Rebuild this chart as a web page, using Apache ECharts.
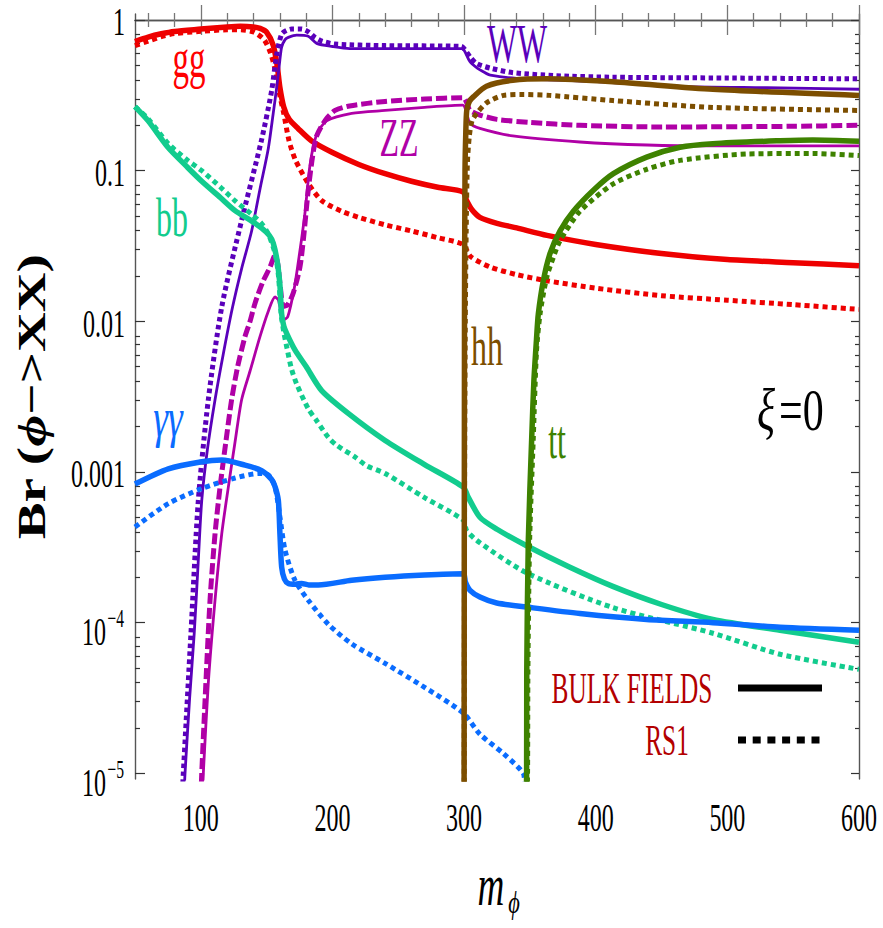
<!DOCTYPE html>
<html><head><meta charset="utf-8">
<script src="https://cdn.jsdelivr.net/npm/echarts@6/dist/echarts.min.js"></script>
<style>html,body{margin:0;padding:0;background:#fff}#c{width:883px;height:928px}</style>
</head><body><div id="c"></div>
<script>
// ---------- axes / ticks ----------
const xTickLabels = [100, 200, 300, 400, 500, 600];
const xMinorTicks = [60, 80, 120, 140, 160, 180, 220, 240, 260, 280, 320, 340, 360, 380, 420, 440, 460, 480, 520, 540, 560, 580];
const yTickValues = [1e-5, 1e-4, 1e-3, 1e-2, 0.1, 1];
const yTickLabels = ['10^−5', '10^−4', '0.001', '0.01', '0.1', '1'];
const yMinorMultipliers = [2, 3, 4, 5, 6, 7, 8];
const xRange = [50, 600];
const yRange = [9.17e-6, 1.096];

// ---------- series (m_phi, Br) ----------
const ggBulk = [[50,0.72],[60,0.77],[70,0.81],[80,0.84],[100,0.87],[120,0.90],[130,0.91],[140,0.90],[145,0.88],[150,0.83],[155,0.68],[158,0.50],[160,0.36],[163,0.265],[167,0.22],[174,0.19],[184,0.158],[200,0.132],[220,0.110],[240,0.0955],[260,0.0851],[280,0.0776],[299,0.0724],[302,0.0631],[306,0.055],[312,0.049],[325,0.0447],[340,0.0417],[363,0.0372],[400,0.0324],[450,0.0282],[500,0.0257],[550,0.0245],[600,0.0234]];
const ggRS1 = [[50,0.676],[60,0.724],[70,0.776],[80,0.813],[100,0.841],[120,0.861],[130,0.861],[140,0.832],[148,0.741],[153,0.603],[157,0.447],[160,0.316],[163,0.240],[167,0.158],[172,0.117],[182,0.0813],[192,0.0631],[207,0.0537],[220,0.049],[240,0.0437],[260,0.0398],[280,0.0359],[299,0.0324],[305,0.0269],[320,0.0229],[340,0.0204],[363,0.0186],[400,0.0166],[450,0.0148],[500,0.0138],[550,0.0129],[600,0.012]];
const wwBulk = [[87.6,8.5e-6],[88,1.0e-5],[91.5,3.16e-5],[95,8.51e-5],[98,2.51e-4],[100.7,6.46e-4],[105,1.41e-3],[110.8,3.02e-3],[117,6.03e-3],[124,0.0123],[131,0.0224],[138.6,0.0398],[145,0.0759],[151.3,0.141],[155,0.240],[157.6,0.355],[160,0.537],[161.4,0.661],[164,0.741],[166.5,0.767],[172.8,0.794],[181.6,0.78],[188,0.70],[200,0.667],[213,0.646],[240,0.646],[298,0.646],[300,0.63],[304.5,0.528],[310,0.48],[314.6,0.454],[320,0.43],[340,0.41],[403,0.389],[464,0.363],[530,0.355],[600,0.347]];
const wwRS1 = [[86.3,8.5e-6],[86.7,1.0e-5],[92.5,8.51e-5],[98.1,6.46e-4],[105.7,3.02e-3],[116,0.0126],[131,0.0468],[146,0.158],[153.8,0.339],[157.6,0.589],[161.4,0.807],[165,0.851],[169,0.871],[176.6,0.871],[182,0.832],[186.7,0.767],[192,0.724],[202,0.692],[240,0.676],[298,0.668],[300,0.646],[305,0.562],[309.6,0.513],[320,0.479],[337,0.447],[370,0.427],[413,0.417],[500,0.412],[600,0.407]];
const zzBulk = [[101.6,8.5e-6],[101.9,1.0e-5],[105.7,3.98e-5],[110.8,1.41e-4],[115.9,3.89e-4],[120.9,7.94e-4],[126,1.58e-3],[131,3.02e-3],[137.4,4.68e-3],[145,7.94e-3],[151,0.0115],[156.4,0.0145],[159,0.0138],[162.7,0.0102],[166,0.0107],[171,0.0166],[175,0.0282],[179,0.0513],[183,0.110],[188,0.174],[195.6,0.214],[214.6,0.240],[240,0.251],[270,0.263],[299,0.272],[302,0.240],[304.5,0.206],[312,0.191],[337,0.170],[388,0.155],[439,0.148],[489,0.146],[600,0.146]];
const zzRS1 = [[100.4,8.5e-6],[100.7,1.0e-5],[103.2,3.02e-5],[107,1.41e-4],[110.8,3.89e-4],[114.6,7.94e-4],[119,1.58e-3],[123.4,3.02e-3],[128,5.01e-3],[133.6,7.94e-3],[137.4,0.0100],[141.2,0.0132],[147,0.0182],[152.6,0.0229],[156.4,0.0275],[158.5,0.0240],[160.5,0.0166],[162.7,0.0126],[166,0.0129],[170.3,0.0155],[175.3,0.0229],[178,0.0355],[181.6,0.0741],[185,0.126],[188,0.170],[195,0.219],[202,0.251],[213,0.269],[240,0.288],[270,0.299],[299.4,0.305],[302,0.282],[304.5,0.251],[312,0.234],[325,0.219],[350,0.209],[388,0.200],[450,0.195],[550,0.197],[600,0.200]];
const bbBulk = [[50,0.266],[60,0.214],[75,0.143],[90,0.105],[100.7,0.0851],[115,0.0661],[126,0.0543],[137,0.0473],[146,0.0417],[152,0.0372],[155,0.0331],[158,0.0251],[160,0.0178],[161.4,0.0112],[163,9.33e-3],[165.2,8.32e-3],[171.5,6.46e-3],[180,5.01e-3],[191.8,3.47e-3],[212,2.45e-3],[240,1.62e-3],[270,1.12e-3],[299.4,7.94e-4],[303,6.84e-4],[312,5.01e-4],[325,4.17e-4],[347.5,3.24e-4],[380,2.34e-4],[413,1.74e-4],[450,1.32e-4],[489,1.05e-4],[540,8.91e-5],[600,7.41e-5]];
const bbRS1 = [[50,0.266],[60,0.221],[75.3,0.151],[90,0.117],[100.7,0.100],[115,0.0776],[126,0.0631],[138.6,0.0513],[146,0.0447],[151.3,0.038],[156.4,0.0282],[159,0.020],[161,0.0112],[163,8.51e-3],[165.5,6.61e-3],[169,4.79e-3],[173,3.80e-3],[181.6,2.63e-3],[188,2.19e-3],[196.8,1.70e-3],[203,1.51e-3],[217,1.26e-3],[226,1.10e-3],[240,9.77e-4],[270,6.76e-4],[299.4,4.79e-4],[302,4.07e-4],[312,3.39e-4],[347.5,2.14e-4],[413,1.26e-4],[489,8.51e-5],[540,6.17e-5],[600,4.90e-5]];
const aaBulk = [[50,8.32e-4],[75.3,1.05e-3],[100.7,1.17e-3],[115.9,1.20e-3],[133.6,1.11e-3],[146.2,1.02e-3],[153.8,8.91e-4],[156.5,7.94e-4],[158.9,6.46e-4],[160.1,3.89e-4],[161.4,2.34e-4],[163.5,1.95e-4],[166.5,1.82e-4],[172,1.80e-4],[176.6,1.82e-4],[182,1.78e-4],[189.2,1.78e-4],[214.6,1.91e-4],[240,2.00e-4],[270,2.07e-4],[299.4,2.11e-4],[301,1.86e-4],[304.5,1.64e-4],[312,1.48e-4],[324.8,1.35e-4],[347.5,1.27e-4],[388,1.15e-4],[438.7,1.05e-4],[489,1.00e-4],[540,9.33e-5],[600,8.91e-5]];
const aaRS1 = [[50,4.32e-4],[75.3,6.17e-4],[100.7,7.76e-4],[126,9.12e-4],[143.7,9.77e-4],[151.3,9.55e-4],[156.4,7.94e-4],[160.1,5.01e-4],[164,3.02e-4],[171.5,1.91e-4],[181.6,1.41e-4],[196.8,9.77e-5],[214.6,7.24e-5],[240,5.37e-5],[270,3.72e-5],[299.4,2.51e-5],[312,1.82e-5],[330,1.35e-5],[345,1.0e-5],[346,8.5e-6]];
const hhBulk = [[300,5e-6],[300.3,0.01],[300.7,0.1],[301.3,0.18],[302,0.251],[304,0.288],[307,0.309],[317,0.363],[337,0.398],[363,0.407],[413,0.389],[489,0.347],[600,0.316]];
const hhRS1 = [[300.05,5e-6],[300.4,1e-3],[300.9,0.01],[301.6,0.0398],[302.5,0.112],[304,0.17],[306,0.214],[309.6,0.240],[317,0.282],[330,0.316],[345,0.320],[365,0.316],[413,0.292],[489,0.263],[600,0.251]];
const ttBulk = [[346.8,5e-6],[347.5,1.0e-5],[347.6,4.57e-5],[348.8,3.55e-4],[351.3,1.62e-3],[353,3.98e-3],[355,7.59e-3],[356.4,0.0112],[360.2,0.0186],[365.3,0.0282],[372.9,0.0398],[383,0.0537],[398.2,0.0741],[413.4,0.0955],[438.7,0.123],[464,0.143],[489,0.151],[540,0.158],[565,0.160],[600,0.157]];
const ttRS1 = [[347.5,5e-6],[348.2,1.0e-5],[348.5,5.0e-5],[349.8,3.55e-4],[352.5,1.62e-3],[355,6.31e-3],[357.7,0.0112],[362.7,0.0195],[367.8,0.0266],[372.9,0.0343],[388,0.0537],[413,0.0813],[438.7,0.102],[464,0.117],[515,0.129],[565,0.130],[600,0.126]];

// ---------- styling ----------
const C = {gg:'#ee0000', ww:'#5a00bb', zz:'#b000a6', bb:'#12cc8e', aa:'#0a6cff', hh:'#7c4e00', tt:'#3e8200'};
const SERIF = '"Liberation Serif", "Times New Roman", serif';
const DOT = [5, 4];

function line(name, data, color, width, dash) {
  return {
    type: 'line', name, data, xAxisIndex: 0, yAxisIndex: 0,
    showSymbol: false, symbol: 'none', smooth: 0.25, clip: true, silent: true,
    lineStyle: {color, width, type: dash || 'solid', cap: 'butt', join: 'round'}
  };
}

const yMinorTicks = [];
for (let n = -5; n <= -1; n++) yMinorMultipliers.forEach(k => yMinorTicks.push(k * Math.pow(10, n)));
const lg = v => Math.log10(v);
const lmin = lg(yRange[0]), lmax = lg(yRange[1]);

const frame = {show: true, lineStyle: {color: '#555', width: 1.4}};
function xAx(pos, ticks, len, withLine) {
  return {type: 'value', position: pos, min: xRange[0], max: xRange[1],
    axisLine: withLine ? frame : {show: false},
    axisTick: {show: true, inside: true, length: len, customValues: ticks, lineStyle: {color: '#777', width: 1.3}},
    axisLabel: {show: false}, splitLine: {show: false}};
}
function yTickAx(pos, ticks, len) {
  return {type: 'value', position: pos, min: lmin, max: lmax,
    axisLine: {show: false},
    axisTick: {show: true, inside: true, length: len, customValues: ticks.map(lg), lineStyle: {color: '#333', width: 1.2}},
    axisLabel: {show: false}, splitLine: {show: false}};
}
function yLogAx(pos) {
  return {type: 'log', logBase: 10, position: pos, min: yRange[0], max: yRange[1],
    axisLine: frame, axisTick: {show: false}, axisLabel: {show: false}, splitLine: {show: false}};
}

const option = {
  animation: false,
  backgroundColor: '#fff',
  grid: {left: 135, right: 24, top: 14, bottom: 149, containLabel: false},
  xAxis: [xAx('bottom', xTickLabels, 15, true), xAx('top', xTickLabels, 15, true),
          xAx('bottom', xMinorTicks, 7, false), xAx('top', xMinorTicks, 7, false)],
  yAxis: [yLogAx('left'), yLogAx('right'),
          yTickAx('left', yTickValues, 10), yTickAx('right', yTickValues, 8),
          yTickAx('left', yMinorTicks, 5), yTickAx('right', yMinorTicks, 4)],
  series: [
    line('gg RS1', ggRS1, C.gg, 5, DOT),
    line('gg bulk', ggBulk, C.gg, 5.5),
    line('WW RS1', wwRS1, C.ww, 5, [4.5, 3.5]),
    line('WW bulk', wwBulk, C.ww, 2.8),
    line('ZZ RS1', zzRS1, C.zz, 5, [11, 4]),
    line('ZZ bulk', zzBulk, C.zz, 2.8),
    line('bb RS1', bbRS1, C.bb, 5, DOT),
    line('bb bulk', bbBulk, C.bb, 5.5),
    line('γγ RS1', aaRS1, C.aa, 5, DOT),
    line('γγ bulk', aaBulk, C.aa, 5.5),
    line('hh RS1', hhRS1, C.hh, 5, DOT),
    line('hh bulk', hhBulk, C.hh, 5.5),
    line('tt RS1', ttRS1, C.tt, 5, DOT),
    line('tt bulk', ttBulk, C.tt, 5.5)
  ]
};

const chart = echarts.init(document.getElementById('c'), null, {renderer: 'svg'});
chart.setOption(option);

// ---------- text (condensed serif, like the original) ----------
function txt(t, x, y, font, fill, align, sx, extra) {
  return Object.assign({type: 'text', x, y, scaleX: sx, silent: true, z: 100,
    style: {text: t, font, fill, textAlign: align, textVerticalAlign: 'middle', align, verticalAlign: 'middle'}}, extra || {});
}
const g = [];
xTickLabels.forEach(v => {
  const px = chart.convertToPixel({xAxisIndex: 0}, v);
  g.push(txt(String(v), px, 818, '40px ' + SERIF, '#000', 'center', 0.6));
});
yTickValues.forEach((v, i) => {
  const py = chart.convertToPixel({yAxisIndex: 0}, v);
  const lab = yTickLabels[i];
  if (lab.indexOf('^') >= 0) {
    const [base, sup] = lab.split('^');
    g.push(txt(base, 106, py + 9, '40px ' + SERIF, '#000', 'right', 0.6));
    g.push(txt(sup, 124, py - 4, '26px ' + SERIF, '#000', 'right', 0.6));
  } else {
    g.push(txt(lab, 125, py + 2, '40px ' + SERIF, '#000', 'right', 0.6));
  }
});
// axis titles
g.push(txt('m', 491, 885, 'italic 60px ' + SERIF, '#000', 'center', 0.62));
g.push(txt('ϕ', 514, 902, 'italic 32px ' + SERIF, '#000', 'center', 0.7));
const yTitle = txt('{b|Br (}{i|ϕ}{b|−>XX)}', 31, 397, 'bold 55px ' + SERIF, '#000', 'center', 1, {rotation: Math.PI / 2, scaleY: 0.74});
yTitle.style.rich = {
  b: {font: 'bold 55px ' + SERIF, fill: '#000'},
  i: {font: 'bold italic 55px ' + SERIF, fill: '#000'}
};
g.push(yTitle);
// curve names
const F55 = '55px ' + SERIF;
g.push(txt('gg', 189, 59, F55, '#ff0000', 'center', 0.6));
g.push(txt('WW', 517, 44, F55, C.ww, 'center', 0.58));
g.push(txt('ZZ', 399, 138, F55, C.zz, 'center', 0.58));
g.push(txt('bb', 172, 218, F55, C.bb, 'center', 0.58));
g.push(txt('hh', 487, 347, F55, C.hh, 'center', 0.58));
g.push(txt('tt', 557, 440, F55, C.tt, 'center', 0.58));
g.push(txt('γγ', 168, 417, 'italic 55px ' + SERIF, C.aa, 'center', 0.68));
g.push(txt('ξ', 757, 410, 'italic 60px ' + SERIF, '#000', 'left', 0.7));
g.push(txt('=0', 779, 410, '60px ' + SERIF, '#000', 'left', 0.7));
// legend
g.push(txt('BULK FIELDS', 632, 688, '44px ' + SERIF, '#b30000', 'center', 0.575));
g.push(txt('RS1', 667, 740, '44px ' + SERIF, '#b30000', 'center', 0.575));
g.push({type: 'line', silent: true, z: 100, shape: {x1: 738, y1: 688, x2: 822, y2: 688}, style: {stroke: '#000', lineWidth: 7}});
g.push({type: 'line', silent: true, z: 100, shape: {x1: 738, y1: 740, x2: 820, y2: 740}, style: {stroke: '#000', lineWidth: 7, lineDash: [8, 6.7]}});

chart.setOption({graphic: {elements: g}});
</script></body></html>
